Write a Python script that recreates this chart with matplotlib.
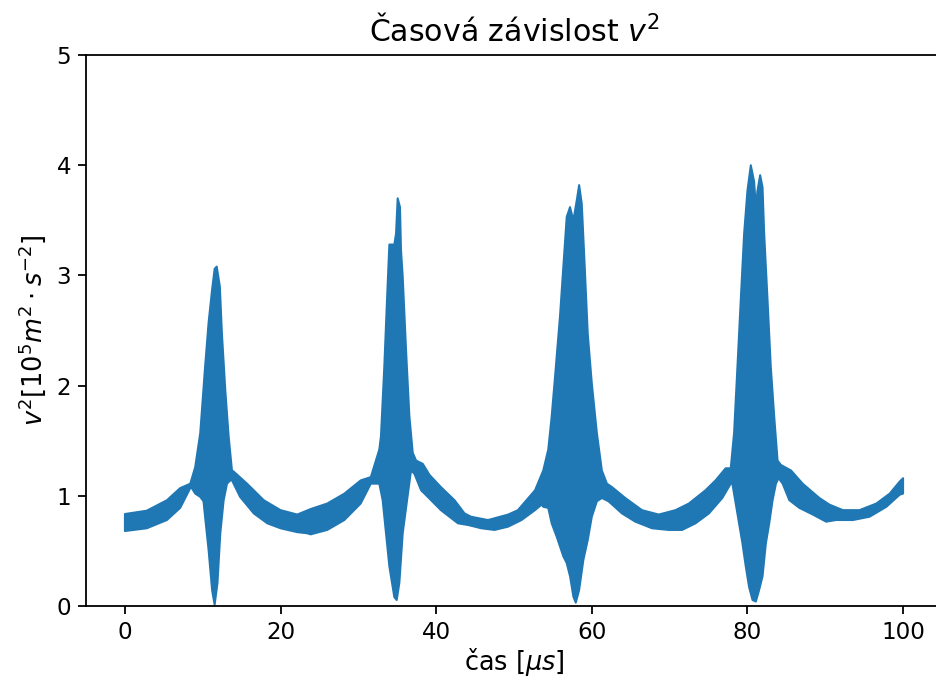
import numpy as np
import matplotlib.pyplot as plt

# obalka signalu v^2 (cteno z grafu), cas v mikrosekundach
t_upper = [0.0, 2.8, 5.4, 7.1, 8.4, 9.03, 9.68, 10.3, 10.75, 11.2, 11.53, 11.8, 12.2, 12.47,
           12.9, 13.33, 13.76, 13.98, 15.7, 17.85, 20.0, 22.15, 23.87,
           26.0, 28.2, 30.3, 31.6, 32.69, 32.9, 33.33, 33.68, 33.98, 34.62, 34.84, 35.05,
           35.35, 35.48, 35.7, 36.13, 36.56, 36.99, 37.42, 38.28, 39.14, 40.6, 42.36,
           43.65, 44.5, 46.66, 49.25, 50.5, 52.7,
           53.76, 54.4, 54.84, 55.27, 55.91, 56.34, 56.77, 57.2, 57.63, 58.06, 58.37,
           58.71, 59.05, 59.48, 60.0, 60.65, 61.29, 61.94, 62.58, 64.3, 66.45, 68.6,
           70.75, 72.47, 74.6, 75.9, 77.2, 77.85,
           78.28, 78.71, 79.14, 79.57, 80.0, 80.43, 80.86, 81.08, 81.29, 81.63, 81.94,
           82.15, 82.58, 83.0, 83.44, 83.87, 84.3, 85.6, 87.1, 89.25, 90.54, 92.26,
           94.4, 96.56, 98.28, 99.57, 100.0]
v_upper = [0.835, 0.865, 0.96, 1.07, 1.11, 1.26, 1.57, 2.17, 2.57, 2.87, 3.06, 3.08, 2.90, 2.47,
           1.96, 1.54, 1.23, 1.22, 1.11, 0.96, 0.87, 0.83, 0.88,
           0.93, 1.02, 1.14, 1.17, 1.42, 1.54, 2.17, 2.78, 3.28, 3.28, 3.38, 3.70,
           3.62, 3.23, 2.99, 2.32, 1.72, 1.39, 1.32, 1.29, 1.19, 1.08, 0.96,
           0.84, 0.81, 0.78, 0.83, 0.87, 1.05,
           1.23, 1.42, 1.72, 2.08, 2.63, 3.08, 3.53, 3.62, 3.50, 3.68, 3.82,
           3.65, 3.14, 2.47, 2.02, 1.57, 1.23, 1.11, 1.08, 0.98, 0.87, 0.83,
           0.87, 0.93, 1.05, 1.14, 1.25, 1.25,
           1.57, 2.17, 2.78, 3.38, 3.77, 4.00, 3.85, 3.62, 3.77, 3.91, 3.80,
           3.38, 2.78, 2.17, 1.72, 1.32, 1.28, 1.23, 1.11, 0.98, 0.92, 0.87,
           0.87, 0.93, 1.02, 1.13, 1.16]

t_lower = [0.0, 2.8, 5.4, 7.1, 8.4, 8.6, 9.03, 9.68, 10.1, 10.3, 10.75, 11.2, 11.53, 11.9,
           12.26, 12.69, 13.12, 13.55, 13.76, 14.8, 16.56, 18.3, 20.0, 22.15, 23.4,
           23.87, 26.0, 28.2, 30.3, 31.6, 32.26, 32.69, 33.12, 33.55, 33.98, 34.62, 34.93,
           35.27, 35.7, 36.26, 36.77, 37.2, 38.06, 38.92, 40.6, 42.8, 44.09, 45.8, 47.5,
           49.25, 50.97, 52.7, 53.55,
           53.76, 54.4, 54.84, 55.48, 56.34, 56.77, 57.2, 57.63, 57.94, 58.37, 58.92,
           59.48, 60.0, 60.65, 61.29, 62.15, 63.87, 65.59, 67.74, 69.9, 71.6, 73.33,
           75.05, 76.77, 77.85,
           78.06, 78.49, 78.92, 79.35, 79.78, 80.2, 80.65, 81.08, 81.5, 81.94, 82.37,
           82.8, 83.23, 83.66, 84.0, 84.52, 85.38, 86.67, 88.39, 90.11, 91.4, 93.55,
           95.7, 97.85, 99.57, 100.0]
v_lower = [0.68, 0.705, 0.78, 0.89, 1.07, 1.07, 1.02, 0.99, 0.95, 0.81, 0.51, 0.145, 0.01, 0.21,
           0.66, 0.96, 1.11, 1.14, 1.14, 0.99, 0.84, 0.75, 0.705, 0.67, 0.66,
           0.65, 0.69, 0.78, 0.93, 1.11, 1.11, 1.11, 0.96, 0.66, 0.36, 0.08, 0.054,
           0.21, 0.66, 0.96, 1.23, 1.20, 1.05, 0.99, 0.87, 0.75, 0.735, 0.705, 0.69,
           0.72, 0.78, 0.87, 0.92,
           0.90, 0.89, 0.75, 0.63, 0.45, 0.39, 0.27, 0.085, 0.03, 0.145, 0.42,
           0.60, 0.81, 0.95, 0.98, 0.95, 0.84, 0.765, 0.705, 0.69, 0.69, 0.75,
           0.84, 0.98, 1.11,
           1.11, 0.93, 0.75, 0.57, 0.36, 0.175, 0.054, 0.04, 0.145, 0.27, 0.57,
           0.75, 0.96, 1.11, 1.16, 1.11, 0.96, 0.89, 0.83, 0.765, 0.78, 0.78,
           0.81, 0.90, 1.01, 1.02]

x_ticks = [0, 20, 40, 60, 80, 100]
y_ticks = [0, 1, 2, 3, 4, 5]

fig = plt.figure(figsize=(6.5, 690 / 144), dpi=144)
ax = fig.add_axes([86 / 936, 84 / 690, 856 / 936, 551 / 690])

# vyplneny pas mezi horni a dolni obalkou
xs = list(t_upper) + list(t_lower[::-1])
ys = list(v_upper) + list(v_lower[::-1])
ax.fill(xs, ys, color="#1f77b4", linewidth=1.0, edgecolor="#1f77b4", joinstyle="round")

ax.set_xlim(-5, 105)
ax.set_ylim(0, 5)
ax.set_xticks(x_ticks)
ax.set_yticks(y_ticks)
ax.tick_params(labelsize=11.5, length=4, width=0.9)
for s in ax.spines.values():
    s.set_linewidth(0.9)
ax.set_title("Časová závislost $v^2$", fontsize=15, pad=7)
ax.set_xlabel("čas [$\\mu s$]", fontsize=12.8, labelpad=1)
ax.set_ylabel("$v^2 [10^5 m^2 \\cdot s^{-2}]$", fontsize=12.8, labelpad=4)

fig.savefig("out.png", dpi=144)
